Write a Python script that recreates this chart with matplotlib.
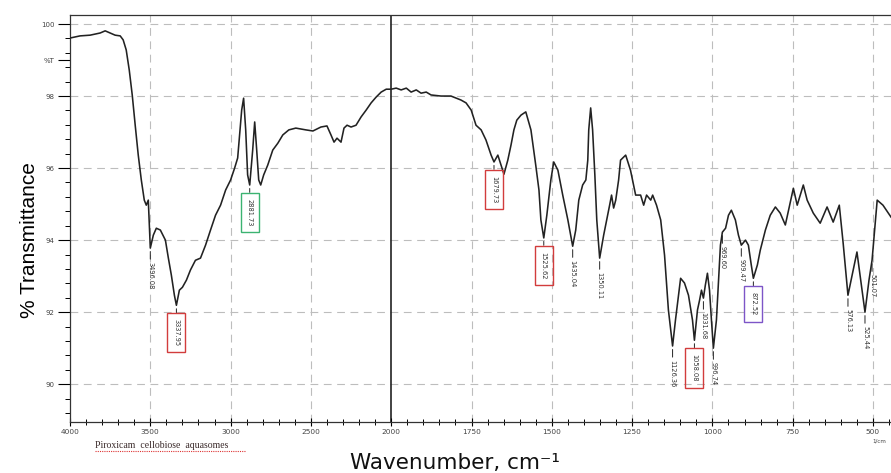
import matplotlib

matplotlib.use("Agg")
import matplotlib.pyplot as plt
import numpy as np
from matplotlib.lines import Line2D
from matplotlib.ticker import FixedLocator, MultipleLocator

# FTIR spectrum
wavenumber = [
    4000, 3937.5, 3875, 3812.5, 3781, 3750, 3719, 3687.5, 3669, 3650, 3631,
    3612.5, 3594, 3575, 3556, 3537.5, 3525, 3512.5, 3500, 3481, 3462.5,
    3437.5, 3406, 3387.5, 3369, 3350, 3337.5, 3319, 3300, 3275, 3250, 3219,
    3187.5, 3156, 3125, 3094, 3062.5, 3031, 3000, 2975, 2956, 2944, 2931,
    2919, 2906, 2894, 2881, 2862.5, 2850, 2837.5, 2825, 2812.5, 2794, 2769,
    2737.5, 2706, 2675, 2637.5, 2594, 2531, 2487.5, 2437.5, 2400, 2375,
    2356, 2337.5, 2312.5, 2294, 2275, 2250, 2219, 2187.5, 2156, 2125, 2094,
    2062.5, 2031, 2000,
    1984.5, 1969, 1953, 1938, 1922, 1907, 1891, 1876, 1845, 1814, 1783,
    1767, 1751, 1736, 1720, 1705, 1689, 1680, 1668, 1649, 1637, 1627, 1618,
    1609, 1596, 1581, 1565, 1550, 1540, 1534, 1525, 1515.5, 1503, 1494,
    1481, 1466, 1450, 1435, 1425.5, 1416, 1404, 1394, 1388, 1385, 1379,
    1373, 1366, 1360, 1351, 1338.5, 1329, 1320, 1314, 1307.5, 1301, 1292,
    1286, 1270, 1255, 1239, 1223.5, 1214, 1205, 1192, 1186, 1174, 1161,
    1149, 1137, 1124, 1115, 1105.5, 1099, 1087, 1074.5, 1062, 1056, 1046.5,
    1040, 1034, 1028, 1022, 1015.5, 1009, 1003, 997, 987.5, 981, 975, 969,
    959, 950, 941, 928.5, 919, 910, 897, 888, 879, 872.5, 860, 851, 835,
    820, 804, 789, 773, 748, 736, 717, 705, 686, 664.5, 643, 624, 605, 593,
    578, 550, 525, 512.5, 503, 487, 469, 444,
]
transmittance = [
    99.61, 99.67, 99.69, 99.75, 99.81, 99.75, 99.69, 99.67, 99.56, 99.28,
    98.72, 98.03, 97.19, 96.36, 95.67, 95.11, 94.97, 95.11, 93.78, 94.14,
    94.33, 94.28, 94.00, 93.50, 93.03, 92.47, 92.19, 92.61, 92.69, 92.89,
    93.17, 93.44, 93.50, 93.86, 94.28, 94.69, 94.97, 95.39, 95.67, 96.00,
    96.28, 96.92, 97.61, 97.94, 97.06, 95.81, 95.53, 96.50, 97.28, 96.50,
    95.67, 95.53, 95.81, 96.08, 96.50, 96.69, 96.92, 97.06, 97.11, 97.06,
    97.03, 97.14, 97.17, 96.92, 96.72, 96.83, 96.72, 97.11, 97.19, 97.14,
    97.19, 97.42, 97.61, 97.81, 97.97, 98.11, 98.19, 98.19,
    98.22, 98.17, 98.22, 98.11, 98.17, 98.08, 98.11, 98.03, 98.00, 98.00,
    97.89, 97.81, 97.61, 97.19, 97.06, 96.78, 96.36, 96.17, 96.36, 95.83,
    96.22, 96.64, 97.06, 97.33, 97.47, 97.56, 97.06, 96.08, 95.39, 94.56,
    94.06, 94.69, 95.67, 96.17, 95.94, 95.25, 94.56, 93.83, 94.28, 95.11,
    95.53, 95.67, 96.22, 97.06, 97.67, 97.06, 95.81, 94.56, 93.50, 94.14,
    94.56, 94.97, 95.25, 94.89, 95.11, 95.67, 96.22, 96.36, 95.94, 95.25,
    95.25, 94.97, 95.25, 95.11, 95.25, 94.97, 94.56, 93.58, 92.06, 91.06,
    91.78, 92.47, 92.94, 92.81, 92.47, 91.78, 91.22, 92.06, 92.33, 92.61,
    92.39, 92.75, 93.08, 92.61, 91.78, 91.00, 91.78, 92.89, 93.86, 94.22,
    94.33, 94.69, 94.83, 94.56, 94.14, 93.86, 94.00, 93.86, 93.31, 92.94,
    93.31, 93.72, 94.28, 94.69, 94.92, 94.75, 94.42, 95.44, 94.97, 95.53,
    95.11, 94.75, 94.47, 94.92, 94.50, 94.97, 93.92, 92.47, 93.67, 92.00,
    92.89, 93.44, 95.11, 94.97, 94.64,
]

# labelled bands: position, depth, printed value, box colour (None = no box)
peak_wn = [3500, 3337.5, 2881, 1680, 1525, 1435, 1351, 1124, 1056, 1028,
           997, 969, 910, 872.5, 578, 525, 503]
peak_t = [93.78, 92.19, 95.53, 96.17, 94.06, 93.83, 93.50, 91.06, 91.22,
          92.39, 91.00, 94.22, 93.86, 92.94, 92.47, 92.00, 93.44]
peak_text = ["3496.08", "3337.95", "2881.73", "1679.73", "1525.62",
             "1435.04", "1350.11", "1126.36", "1058.08", "1031.68",
             "996.74", "969.60", "909.47", "872.52", "576.13", "525.44",
             "501.07"]
peak_box = [None, "#d23c3c", "#3cb371", "#d23c3c", "#d23c3c", None, None,
            None, "#d23c3c", None, None, None, None, "#7d55c7", None, None,
            None]

major_x = [4000, 3500, 3000, 2500, 2000, 1750, 1500, 1250, 1000, 750, 500]
y_ticks = [90, 92, 94, 96, 98, 99, 100]
y_labels = ["90", "92", "94", "96", "98", "%T", "100"]


# wavenumbers below 2000 are drawn at twice the scale
def fwd(w):
    w = np.asarray(w, dtype=float)
    return np.where(w <= 2000, 2 * w, w + 2000)


def inv(u):
    u = np.asarray(u, dtype=float)
    return np.where(u <= 4000, u / 2, u - 2000)


fig = plt.figure(figsize=(8.91, 4.73), dpi=100)
ax = fig.add_axes([70 / 891, 51 / 473, 821 / 891, 407 / 473])
ax.set_xscale("function", functions=(fwd, inv))
ax.set_xlim(4000, 444)
ax.set_ylim(88.95, 100.25)

# grid
for x in major_x:
    if x in (4000, 2000):
        continue
    ax.axvline(x, color="#bdbdbd", lw=0.8, ls=(0, (7, 5)), zorder=0)
for y in [90, 92, 94, 96, 98, 100]:
    ax.axhline(y, color="#bdbdbd", lw=0.8, ls=(0, (7, 5)), zorder=0)
ax.axvline(2000, color="#222222", lw=1.2, zorder=1)

ax.plot(wavenumber, transmittance, color="#222222", lw=1.15, zorder=3)

for w, t, s, c in zip(peak_wn, peak_t, peak_text, peak_box):
    bbox = None
    if c is not None:
        bbox = dict(boxstyle="square,pad=0.9", fc="none", ec=c, lw=1.0)
    ax.annotate(
        s, xy=(w, t), xytext=(0, -10), textcoords="offset points",
        rotation=270, ha="center", va="top", fontsize=4.8, color="#333333",
        bbox=bbox,
        arrowprops=dict(arrowstyle="-", lw=0.7, color="#222222",
                        shrinkA=0, shrinkB=2.5),
        zorder=4,
    )

ax.xaxis.set_major_locator(FixedLocator(major_x))
ax.xaxis.set_minor_locator(FixedLocator(
    list(range(3900, 2000, -100)) + list(range(1950, 440, -50))))
ax.set_xticklabels([str(x) for x in major_x])
ax.set_yticks(y_ticks)
ax.set_yticklabels(y_labels)
ax.yaxis.set_minor_locator(MultipleLocator(0.4))

ax.tick_params(axis="x", which="major", direction="inout", length=6,
               width=0.8, labelsize=5.3, labelcolor="#444444", pad=2)
ax.tick_params(axis="x", which="minor", direction="inout", length=4,
               width=0.7)
ax.tick_params(axis="y", which="major", direction="out", length=9,
               width=0.8, labelsize=5, labelcolor="#444444", pad=2)
ax.tick_params(axis="y", which="minor", direction="out", length=3.5,
               width=0.7)
ax.spines["right"].set_visible(False)
for sp in ("left", "bottom", "top"):
    ax.spines[sp].set_linewidth(0.9)
    ax.spines[sp].set_color("#333333")

fig.text(30 / 891, 1 - 240 / 473, "% Transmittance", rotation=90,
         ha="center", va="center", fontsize=15, family="Liberation Sans")
fig.text(455 / 891, 0.0, "Wavenumber, cm\u207b\u00b9", ha="center",
         va="bottom", fontsize=15.5, color="#111111")
fig.text(95 / 891, 1 - 445 / 473, "Piroxicam  cellobiose  aquasomes",
         ha="left", va="center", fontsize=7, family="Liberation Serif",
         color="#3a2a2a")
fig.add_artist(Line2D([95 / 891, 245 / 891], [1 - 451 / 473, 1 - 451 / 473],
                      color="#dd3333", lw=0.8, ls=(0, (1, 1))))
fig.text(886 / 891, 1 - 441 / 473, "1/cm", ha="right", va="center",
         fontsize=4, color="#444444")

fig.savefig("out.png", dpi=100)
